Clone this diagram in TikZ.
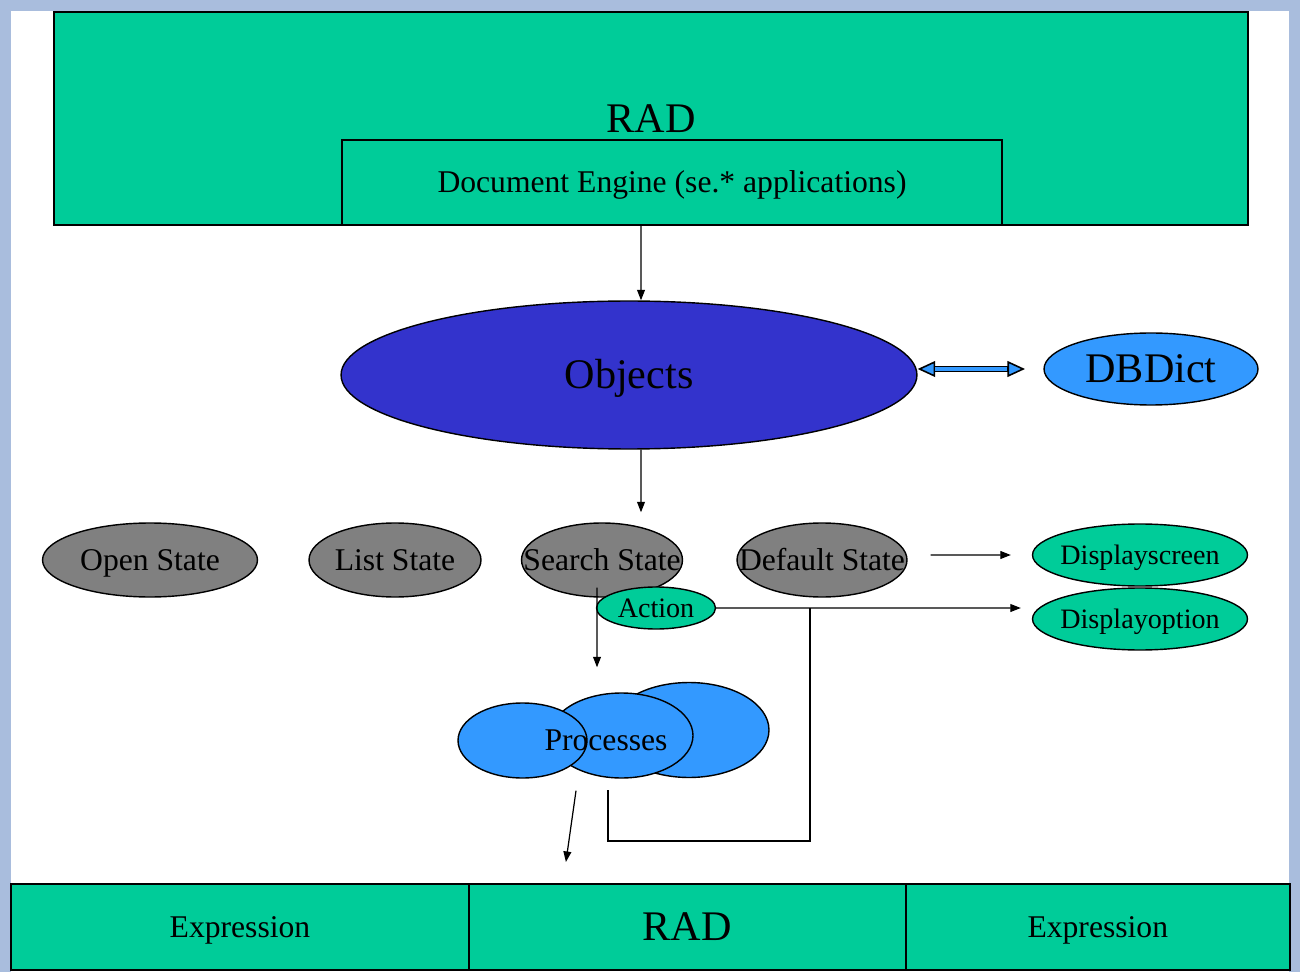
\documentclass[tikz,border=0pt]{standalone}
\usepackage{fontspec}
\setmainfont{Liberation Serif}
\usetikzlibrary{shapes.geometric}
\usetikzlibrary{positioning}
\usetikzlibrary{arrows.meta}
\definecolor{radgreen}{RGB}{0,204,153}
\definecolor{objblue}{RGB}{51,51,204}
\definecolor{dictblue}{RGB}{51,153,255}
\definecolor{stategray}{RGB}{128,128,128}
\definecolor{framecol}{RGB}{169,189,221}

\begin{document}
\begin{tikzpicture}[x=0.02cm,y=-0.02cm,
    panel/.style={draw, line width=1pt, fill=radgreen, inner sep=0pt, outer sep=0pt},
    blob/.style={draw, ellipse, line width=0.8pt, inner sep=0pt},
    link/.style={-{Triangle[length=6pt,width=4.5pt]}, line width=0.7pt},
    txtbig/.style={font=\fontsize{24}{28}\selectfont, text height=15.6pt, text depth=0pt},
    txtmid/.style={font=\fontsize{18}{21}\selectfont, text height=11.6pt, text depth=0pt},
    txtsmall/.style={font=\fontsize{16}{19}\selectfont, text height=10.3pt, text depth=0pt}]
    % window frame
    \useasboundingbox (0,0) rectangle (1300,972);
    \fill[framecol] (0,0) rectangle (1300,972);
    \fill[white] (11,11) rectangle (1289,972);

    % top block
    \node[panel, minimum width=23.88cm, minimum height=4.26cm, txtbig] (rad) at (651,118.5) {RAD};
    \node[panel, minimum width=13.2cm, minimum height=1.7cm, txtmid] (doc) at (672,182.5) {Document Engine (se.* applications)};

    % objects and dictionary
    \node[blob, fill=objblue, minimum width=11.52cm, minimum height=2.96cm, label={[txtbig]center:Objects}] (objects) at (629,375) {};
    \node[blob, fill=dictblue, minimum width=4.28cm, minimum height=1.44cm, label={[txtbig]center:DBDict}] (dbdict) at (1151,369) {};
    \coordinate (dbend) at (1025,369);

    % states
    \node[blob, fill=stategray, minimum width=4.3cm, minimum height=1.48cm, label={[txtmid]center:Open State}] (open) at (150,560) {};
    \node[blob, fill=stategray, minimum width=3.44cm, minimum height=1.48cm, label={[txtmid]center:List State}] (list) at (395,560) {};
    \node[blob, fill=stategray, minimum width=3.22cm, minimum height=1.48cm, label={[txtmid]center:Search State}] (search) at (602,560) {};
    \node[blob, fill=stategray, minimum width=3.4cm, minimum height=1.48cm, label={[txtmid]center:Default State}] (default) at (822,560) {};
    \node[blob, fill=radgreen, minimum width=2.38cm, minimum height=0.84cm, label={[txtsmall]center:Action}] (action) at (656,608) {};

    \node[blob, fill=radgreen, minimum width=4.3cm, minimum height=1.24cm, label={[txtsmall]center:Displayscreen}] (dscreen) at (1140,555) {};
    \node[blob, fill=radgreen, minimum width=4.3cm, minimum height=1.24cm, label={[txtsmall]center:Displayoption}] (dopt) at (1140,619) {};

    % processes
    \node[blob, fill=dictblue, minimum width=3.2cm, minimum height=1.9cm] (procback) at (689,730) {};
    \node[blob, fill=dictblue, minimum width=2.86cm, minimum height=1.7cm] (procmid) at (621.5,735.5) {};
    \node[blob, fill=dictblue, minimum width=2.58cm, minimum height=1.5cm] (procfront) at (522.5,740.5) {};
    \node[txtmid] (proctxt) at (606,740) {Processes};

    % bottom row
    \node[panel, anchor=north west, minimum width=9.16cm, minimum height=1.72cm, txtmid] (exprl) at (11,884) {Expression};
    \node[panel, minimum width=8.74cm, minimum height=1.72cm, txtbig, right=0pt of exprl] (radlow) {RAD};
    \node[panel, minimum width=7.68cm, minimum height=1.72cm, txtmid, right=0pt of radlow] (exprr) {Expression};

    % connectors
    \draw[link] ([xshift=-0.62cm]doc.south) -- ([xshift=0.24cm]objects.north);
    \draw[link] ([xshift=0.24cm]objects.south) -- ([xshift=0.78cm,yshift=0.2cm]search.north);
    \draw[line width=3.6pt, {Triangle[length=10pt,width=9pt,fill=dictblue,line width=0.9pt]}-{Triangle[length=10pt,width=9pt,fill=dictblue,line width=0.9pt]}] (objects.east |- dbdict.west) -- (dbend);
    \draw[dictblue, line width=1.8pt, shorten <=10pt, shorten >=10pt] (objects.east |- dbdict.west) -- (dbend);
    \draw[link] ([xshift=0.46cm,yshift=0.1cm]default.east) -- ([xshift=-0.42cm]dscreen.west);
    \draw[link] (action.east) -- ([xshift=-0.22cm,yshift=0.22cm]dopt.west);
    \coordinate (tap) at (810,608);
    \draw[line width=0.7pt] (tap) -- ++(0,233) -| ([xshift=-0.27cm,yshift=-0.22cm]procmid.south);
    \draw[link] ([xshift=-0.1cm,yshift=0.2cm]search.south) -- ([xshift=-0.49cm,yshift=0.5cm]procmid.north);
    \draw[link] ([xshift=-0.91cm,yshift=-0.24cm]procmid.south) -- ([xshift=1.94cm,yshift=0.44cm]radlow.north west);
\end{tikzpicture}
\end{document}
